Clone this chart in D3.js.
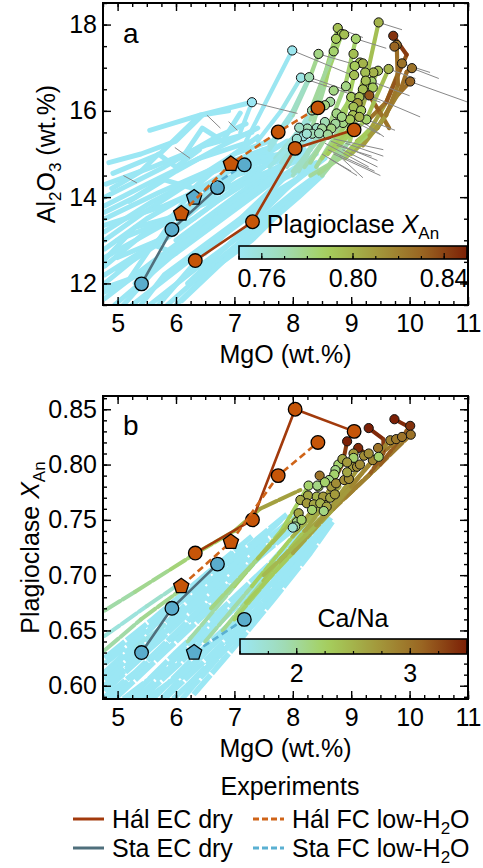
<!DOCTYPE html>
<html><head><meta charset="utf-8">
<script src="https://cdn.jsdelivr.net/npm/d3@7"></script>
<style>body{margin:0;background:#fff}svg text{font-family:"Liberation Sans",Arial,Helvetica,sans-serif;fill:#000}</style>
</head><body><svg id="c" width="483" height="868"></svg>
<script>
// ---------------- DATA ----------------
const xTicks = [5, 6, 7, 8, 9, 10, 11];
const yTicksA = [12, 14, 16, 18];
const yTicksB = [0.60, 0.65, 0.70, 0.75, 0.80, 0.85];
const cbTicksA = [0.76, 0.80, 0.84];
const cbTicksB = [2, 3];

// Experiments (MgO, Al2O3, XAn, marker)
const halEC_mgo = [6.33, 7.31, 8.04, 9.05];
const halEC_al  = [12.53, 13.43, 15.13, 15.56];
const halEC_xan = [0.72, 0.75, 0.85, 0.83];
const halEC_mk  = ["c", "c", "c", "c"];
const halFC_mgo = [6.09, 6.94, 7.75, 8.43];
const halFC_al  = [13.62, 14.77, 15.51, 16.07];
const halFC_xan = [0.69, 0.73, 0.79, 0.82];
const halFC_mk  = ["p", "p", "c", "c"];
const staEC_mgo = [5.41, 5.93, 6.71];
const staEC_al  = [11.99, 13.25, 14.22];
const staEC_xan = [0.63, 0.67, 0.71];
const staEC_mk  = ["c", "c", "c"];
const staFC_mgo = [6.31, 7.17];
const staFC_al  = [13.99, 14.75];
const staFC_xan = [0.63, 0.66];
const staFC_mk  = ["p", "c"];

// Panel a model paths: [MgO, Al2O3]
const bluePathsA = [
 [[4.78,11.65],[5.6,12.5],[6.5,13.4],[7.4,14.3],[8.2,15.1]],
 [[4.95,11.5],[5.9,12.6],[6.8,13.5],[7.6,14.3],[8.4,15.0]],
 [[5.25,11.5],[6.1,12.4],[7.0,13.3],[7.8,14.1],[8.55,14.9]],
 [[5.55,11.5],[6.3,12.3],[7.2,13.2],[8.0,14.1],[8.6,14.7]],
 [[5.85,11.5],[6.6,12.4],[7.4,13.3],[8.1,14.1],[8.5,14.5]],
 [[6.0,11.5],[6.6,12.3],[7.3,13.0],[7.9,13.8],[8.4,14.4]],
 [[4.78,12.0],[5.5,12.8],[6.3,13.5],[7.2,14.4],[8.0,15.2]],
 [[4.78,12.4],[5.4,13.1],[6.2,13.8],[7.1,14.6],[7.9,15.3]],
 [[4.78,12.8],[5.5,13.5],[6.4,14.2],[7.3,14.9],[8.1,15.4]],
 [[4.78,13.2],[5.6,13.9],[6.6,14.6],[7.5,15.1]],
 [[4.78,13.5],[5.7,14.1],[6.7,14.7],[7.7,15.2]],
 [[4.78,13.8],[5.5,14.3],[6.4,14.9],[7.3,15.3]],
 [[4.8,14.3],[5.6,14.7],[6.5,15.2],[7.3,15.5]],
 [[4.92,14.55],[5.72,15.0],[6.41,15.9],[6.9,16.0]],
 [[5.55,15.55],[6.41,15.9],[7.30,16.2]],
 [[4.9,14.2],[5.4,14.6],[5.7,15.0],[6.0,14.7],[6.4,15.1]],
 [[6.1,14.9],[6.45,15.6],[6.8,15.3],[7.1,15.95]],
 [[5.2,13.9],[5.8,14.4],[6.3,14.2],[6.9,14.9],[7.4,15.4]],
 [[4.78,11.9],[5.2,12.1],[5.6,12.9],[6.0,12.7]],
 [[5.0,12.6],[5.7,13.0],[6.0,13.6],[6.8,14.0],[7.6,14.8]],
 [[5.4,11.5],[5.8,12.2],[6.5,12.9],[7.3,13.7],[7.9,14.5]],
 [[4.78,12.55],[5.3,13.3],[6.1,13.6],[6.9,14.3]],
 [[6.1,11.6],[6.8,12.5],[7.5,13.3],[8.1,14.0],[8.5,14.5]],
 [[6.0,13.0],[6.8,13.8],[7.6,14.6],[8.3,15.1]],
 [[5.0,13.0],[5.9,13.5],[6.5,14.5],[7.0,14.8],[7.8,15.0]],
 [[4.78,11.8],[5.5,12.3],[6.2,13.1],[7.0,13.9],[7.8,14.7]],
 [[4.78,12.2],[5.6,12.9],[6.4,13.8],[7.2,14.7],[7.9,15.0]],
 [[4.78,12.6],[5.7,13.3],[6.6,14.0],[7.5,14.7],[8.3,15.3]],
 [[4.78,13.0],[5.4,13.6],[6.2,14.3],[7.0,15.0],[7.6,15.3]],
 [[4.78,13.35],[5.8,13.8],[6.8,14.4],[7.9,14.9]],
 [[4.78,13.65],[5.3,14.0],[6.0,14.6],[6.8,15.2],[7.4,15.6]],
 [[4.78,14.0],[5.8,14.7],[6.7,15.4],[7.2,15.7]],
 [[5.1,11.5],[5.7,12.4],[6.4,13.2],[7.1,14.0],[7.8,14.6]],
 [[5.7,11.5],[6.4,12.6],[7.1,13.5],[7.8,14.4],[8.4,14.8]],
 [[6.2,12.0],[6.9,12.9],[7.6,13.8],[8.2,14.6]],
 [[5.3,12.0],[6.0,12.8],[6.9,13.7],[7.7,14.5]],
 [[4.85,14.8],[5.4,15.0],[6.0,15.3],[6.45,15.9]],
 [[5.0,12.3],[5.9,13.1],[6.7,13.9],[7.4,14.5],[8.2,14.9]],
 [[6.5,12.7],[7.2,13.6],[7.8,14.2],[8.4,14.7]]
];
// Panel a coloured paths: [MgO, Al2O3, XAn]
const colPathsA = [
 [[7.7,14.9,0.75],[8.2,15.7,0.765],[8.5,16.6,0.775],[8.77,17.92,0.795]],
 [[7.8,14.8,0.75],[8.3,15.8,0.765],[8.6,16.9,0.78],[8.84,17.78,0.79]],
 [[7.9,14.7,0.752],[8.35,15.7,0.768],[8.55,16.6,0.78],[8.74,17.67,0.79]],
 [[7.6,15.1,0.75],[8.0,15.9,0.76],[8.3,16.8,0.775],[8.44,17.32,0.78]],
 [[7.9,15.0,0.752],[8.3,16.0,0.765],[8.70,17.38,0.785]],
 [[8.0,14.6,0.755],[8.6,15.6,0.775],[8.9,16.6,0.785],[9.08,17.67,0.785]],
 [[8.5,14.5,0.765],[8.98,15.31,0.78],[9.2,16.4,0.79],[9.47,18.05,0.80]],
 [[8.6,14.7,0.77],[9.0,15.6,0.785],[9.3,16.5,0.79],[9.46,16.93,0.795]],
 [[8.9,14.9,0.78],[9.3,15.5,0.80],[9.6,16.2,0.815],[9.87,17.10,0.825]],
 [[9.0,15.0,0.79],[9.45,15.6,0.81],[9.75,16.3,0.825],[10.01,16.68,0.83]],
 [[9.1,15.3,0.795],[9.5,15.7,0.815],[9.85,16.5,0.825],[9.95,16.9,0.83],[10.04,16.99,0.83]],
 [[9.3,15.8,0.82],[9.6,16.2,0.83],[9.95,17.3,0.84],[9.72,17.74,0.845]],
 [[9.31,16.36,0.835],[9.5,15.95,0.83],[9.65,15.6,0.82]],
 [[9.2,15.2,0.80],[9.6,15.9,0.82],[9.8,16.6,0.825],[9.78,17.53,0.83]],
 [[7.6,14.7,0.748],[8.07,15.35,0.76]],
 [[7.8,14.6,0.75],[8.25,15.59,0.77]],
 [[8.0,14.5,0.755],[8.5,15.59,0.775]],
 [[8.1,14.6,0.76],[8.55,15.74,0.77]],
 [[8.2,14.7,0.765],[8.73,15.70,0.775]],
 [[8.3,14.8,0.77],[8.66,15.59,0.78],[9.0,16.32,0.79]],
 [[8.4,14.7,0.77],[8.86,15.72,0.78],[9.05,16.83,0.795]],
 [[8.5,14.9,0.775],[9.03,15.90,0.795],[9.24,16.89,0.795]],
 [[8.6,15.0,0.78],[9.14,15.86,0.80],[9.38,16.89,0.80]],
 [[8.7,15.1,0.785],[9.26,15.80,0.79],[9.64,16.97,0.80]],
 [[8.3,14.5,0.77],[8.8,14.9,0.78],[9.25,15.4,0.79]],
 [[8.45,14.55,0.77],[8.9,15.0,0.785],[9.3,15.55,0.795]],
 [[7.2,15.3,0.745],[7.5,16.1,0.75],[7.99,17.40,0.752]],
 [[7.4,15.3,0.748],[7.8,16.0,0.752],[8.14,16.77,0.755]],
 [[7.6,15.2,0.75],[8.0,16.0,0.76],[8.28,16.78,0.77]],
 [[7.1,15.5,0.745],[7.30,16.2,0.75]]
];
// Panel a grey tails: [MgO, Al2O3]
const greyA = [
 [[7.30,16.20],[8.08,15.94]], [[7.99,17.40],[9.01,16.83]], [[8.14,16.77],[9.3,16.25]],
 [[8.28,16.78],[9.5,16.2]], [[8.44,17.32],[9.0,17.1]], [[8.77,17.92],[9.2,17.7]],
 [[9.08,17.67],[9.6,17.45]], [[9.47,18.05],[9.87,17.88]], [[9.87,17.10],[10.35,16.89]],
 [[10.04,16.99],[10.5,16.75]], [[10.01,16.68],[11.0,16.2]], [[9.64,16.97],[10.1,16.75]],
 [[9.35,16.68],[10.0,16.35]], [[9.31,16.36],[10.18,15.86]], [[9.03,15.90],[9.56,15.4]],
 [[9.26,15.80],[9.75,15.55]], [[8.98,15.80],[9.5,15.45]],
 [[8.55,15.25],[9.3,14.7]], [[8.6,15.1],[9.4,14.6]], [[8.65,15.3],[9.45,14.85]],
 [[8.7,15.0],[9.5,14.5]], [[8.75,15.2],[9.35,14.95]], [[8.8,14.95],[9.2,14.45]],
 [[8.62,14.9],[9.1,14.5]], [[8.9,15.25],[9.55,14.95]], [[8.5,15.0],[9.0,14.6]],
 [[8.85,15.1],[9.45,14.7]], [[8.7,15.35],[9.55,15.1]],
 [[5.1,14.5],[5.33,14.33]], [[5.98,15.15],[6.24,14.9]], [[6.53,15.9],[6.76,15.6]],
 [[6.9,15.75],[7.05,15.55]]
];
// Panel a end circles: MgO, Al2O3, XAn
const circA_mgo = [7.30,7.99,8.14,8.28,8.44,8.70,8.77,8.84,8.88,8.74,9.08,9.04,9.47,9.72,9.78,9.74,9.87,10.04,10.01,9.64,9.46,9.38,9.24,9.15,9.20,9.06,9.05,9.35,9.37,9.20,8.91,8.70,9.00,9.14,9.31,9.11,9.04,9.17,9.03,9.26,9.14,8.75,8.64,8.55,8.33,8.86,8.98,8.73,8.55,8.41,8.25,8.11,8.33,8.50,8.66,8.18,8.24,8.07,8.84,9.25,8.45,8.60];
const circA_al  = [16.20,17.40,16.77,16.78,17.32,17.38,17.92,17.78,17.77,17.67,17.67,17.32,18.05,17.74,17.53,17.49,17.10,16.99,16.68,16.97,16.93,16.89,16.89,17.12,17.10,17.04,16.83,16.68,16.54,16.50,16.57,16.47,16.32,16.32,16.36,16.18,16.09,16.01,15.90,15.80,15.86,15.94,16.21,16.13,16.01,15.72,15.80,15.70,15.74,15.60,15.59,15.61,15.47,15.59,15.59,15.41,15.47,15.35,15.86,16.70,15.48,15.45];
const circA_xan = [0.75,0.752,0.755,0.77,0.78,0.785,0.795,0.79,0.795,0.79,0.785,0.795,0.80,0.845,0.825,0.83,0.825,0.825,0.83,0.80,0.795,0.80,0.795,0.795,0.80,0.79,0.795,0.785,0.79,0.795,0.78,0.78,0.79,0.795,0.835,0.81,0.795,0.79,0.795,0.785,0.80,0.78,0.775,0.78,0.77,0.78,0.79,0.775,0.77,0.765,0.77,0.765,0.77,0.775,0.78,0.755,0.76,0.76,0.78,0.795,0.77,0.775];

// Panel b model paths: [MgO, XAn]
const bluePathsB = [
 [[4.85,0.588],[5.6,0.625],[6.4,0.665],[7.2,0.705],[8.0,0.745]],
 [[5.2,0.588],[6.0,0.63],[6.8,0.67],[7.6,0.71],[8.3,0.75]],
 [[5.6,0.588],[6.3,0.625],[7.0,0.66],[7.8,0.705],[8.5,0.752]],
 [[5.95,0.588],[6.7,0.625],[7.4,0.665],[8.1,0.71],[8.6,0.75]],
 [[4.78,0.595],[5.4,0.625],[6.2,0.67],[7.0,0.71],[7.8,0.75]],
 [[4.78,0.605],[5.5,0.64],[6.3,0.68],[7.1,0.72],[7.9,0.755]],
 [[4.78,0.62],[5.6,0.655],[6.4,0.69],[7.2,0.725]],
 [[4.78,0.59],[5.3,0.612],[6.0,0.648],[6.8,0.69],[7.6,0.73]],
 [[5.4,0.588],[6.1,0.622],[6.9,0.665],[7.7,0.71]],
 [[4.95,0.588],[5.8,0.63],[6.6,0.67],[7.4,0.715],[8.2,0.75]],
 [[5.75,0.588],[6.5,0.63],[7.3,0.672],[8.0,0.715],[8.45,0.74]],
 [[4.78,0.612],[5.5,0.648],[6.5,0.70],[7.0,0.72]],
 [[6.2,0.60],[7.0,0.645],[7.8,0.695],[8.4,0.735]],
 [[6.1,0.588],[6.8,0.63],[7.5,0.672],[8.2,0.718],[8.65,0.752]],
 [[6.3,0.592],[7.0,0.635],[7.7,0.68],[8.3,0.72],[8.7,0.75]],
 [[5.1,0.588],[5.9,0.62],[6.7,0.66],[7.5,0.70],[8.3,0.745]],
 [[5.5,0.588],[6.2,0.615],[7.0,0.655],[7.8,0.70],[8.55,0.745]],
 [[4.78,0.598],[5.7,0.64],[6.6,0.685],[7.5,0.73],[8.1,0.755]],
 [[4.78,0.625],[5.6,0.66],[6.5,0.70],[7.3,0.735]],
 [[5.8,0.588],[6.6,0.628],[7.3,0.665],[8.0,0.705],[8.5,0.738]],
 [[4.78,0.60],[5.9,0.655],[6.9,0.705],[7.6,0.74]],
 [[5.3,0.588],[6.4,0.64],[7.4,0.69],[8.2,0.735]]
];
// Panel b coloured paths: [MgO, XAn, Ca/Na]
const colPathsB = [
 [[7.8,0.715,2.3],[8.6,0.755,2.7],[9.4,0.795,2.9],[10.02,0.827,3.0]],
 [[7.9,0.72,2.4],[8.7,0.762,2.8],[9.5,0.80,3.0],[10.01,0.835,3.3]],
 [[8.0,0.725,2.5],[8.8,0.77,2.7],[9.4,0.805,2.9],[9.87,0.825,3.0]],
 [[9.30,0.833,3.5],[9.55,0.823,3.4],[9.55,0.81,3.3],[9.3,0.79,3.0],[8.9,0.77,2.8]],
 [[9.74,0.841,3.5],[9.95,0.835,3.4],[10.01,0.835,3.4]],
 [[8.93,0.821,3.5],[8.85,0.80,3.2],[8.6,0.775,2.8],[8.2,0.75,2.5]],
 [[9.12,0.815,3.45],[9.25,0.81,3.3]],
 [[6.5,0.64,1.8],[7.3,0.69,2.1],[8.0,0.735,2.4],[8.6,0.768,2.6]],
 [[6.8,0.65,1.9],[7.5,0.695,2.2],[8.2,0.74,2.5],[8.8,0.78,2.7]],
 [[7.0,0.66,2.0],[7.8,0.71,2.4],[8.5,0.75,2.6],[9.1,0.795,2.8]],
 [[7.2,0.675,2.1],[8.0,0.72,2.5],[8.7,0.76,2.7],[9.3,0.80,2.9]],
 [[6.2,0.64,1.8],[7.0,0.69,2.1],[7.8,0.74,2.3],[8.27,0.781,2.2]],
 [[6.6,0.67,1.9],[7.4,0.715,2.3],[8.1,0.755,2.5]],
 [[7.5,0.70,2.3],[8.4,0.745,2.6],[9.0,0.78,2.8],[9.66,0.822,2.9]],
 [[4.78,0.668,1.9],[5.3,0.685,2.0],[5.9,0.705,2.1],[6.35,0.72,2.2],[7.0,0.74,2.3],[7.44,0.76,2.6],[8.13,0.777,2.7]],
 [[4.78,0.632,1.9],[5.4,0.66,2.0],[6.12,0.688,2.1]],
 [[4.78,0.645,1.6],[5.5,0.672,1.7],[6.0,0.69,1.8]],
 [[4.78,0.61,1.4],[5.3,0.635,1.5],[5.8,0.655,1.6]]
];
// Panel b end circles: MgO, XAn, Ca/Na
const circB_mgo = [9.74,10.01,10.02,9.30,8.93,9.12,9.67,9.77,9.87,9.46,9.37,9.47,9.04,9.22,9.04,8.46,8.78,8.73,8.71,9.03,9.10,9.15,8.27,8.44,8.62,8.66,8.74,8.88,8.96,8.93,8.26,8.41,8.52,8.64,8.72,8.13,8.24,8.36,8.47,8.58,8.10,8.33,8.53,8.07,8.04,8.00,8.15,8.42,8.55,8.85,8.93,9.30];
const circB_xan = [0.841,0.835,0.827,0.833,0.821,0.815,0.822,0.823,0.825,0.815,0.804,0.807,0.810,0.808,0.806,0.790,0.800,0.795,0.791,0.798,0.798,0.800,0.781,0.780,0.786,0.780,0.783,0.786,0.787,0.793,0.772,0.771,0.771,0.770,0.773,0.768,0.765,0.764,0.765,0.762,0.756,0.759,0.758,0.748,0.744,0.743,0.750,0.781,0.784,0.805,0.802,0.810];
const circB_cana = [3.5,3.4,3.0,3.5,3.5,3.45,2.9,2.95,3.0,3.0,2.85,2.2,2.7,2.8,2.2,3.0,2.2,2.1,2.2,2.7,2.8,2.8,2.2,2.3,2.1,2.7,2.8,2.8,2.8,2.6,2.6,2.5,2.7,2.6,2.7,2.6,2.7,2.6,2.5,2.6,2.6,2.2,2.1,2.1,2.0,1.7,2.2,2.1,2.2,2.6,2.7,2.8];

// ---------------- STYLE / LAYOUT ----------------
const FS = 25;
const boxA = {l:103, r:468, t:3, b:305};
const boxB = {l:103, r:468, t:396, b:699};
const palette = d3.scaleLinear().domain([0,0.19,0.38,0.6,0.8,1])
  .range(["#9be7f4","#a0dcb8","#a5d05e","#a39a3c","#9a6622","#7c2006"]).clamp(true);
const tA = d3.scaleLinear().domain([0.75,0.85]).range([0,1]).clamp(true);
const tB = d3.scaleLinear().domain([1.5,3.5]).range([0,1]).clamp(true);
const colA = v => palette(tA(v));
const colB = v => palette(tB(v));
const HAL_LINE="#a23a0c", HAL_FC="#cf6418", HAL_FILL="#c65508";
const STA_LINE="#4f6f7c", STA_FC="#5ab0d2", STA_FILL="#5aaccc";

const svg = d3.select("#c");
const x = d3.scaleLinear().domain([4.75,11]).range([boxA.l, boxA.r]);
const yA = d3.scaleLinear().domain([11.5,18.5]).range([boxA.b, boxA.t]);
const yB = d3.scaleLinear().domain([0.588,0.862]).range([boxB.b, boxB.t]);

const defs = svg.append("defs");
function clip(id, box){
  defs.append("clipPath").attr("id",id).append("rect")
   .attr("x",box.l).attr("y",box.t).attr("width",box.r-box.l).attr("height",box.b-box.t);
}
clip("clipA",boxA); clip("clipB",boxB);

function pentagon(r){
  const p=[]; for(let k=0;k<5;k++){const a=-Math.PI/2+k*2*Math.PI/5; p.push([r*Math.cos(a), r*Math.sin(a)]);}
  return "M"+p.map(d=>d.join(",")).join("L")+"Z";
}

function axes(box, y, yTicks, yMinorStep, yFmt){
  const g = svg.append("g");
  const xMinor = d3.range(4.75, 11.001, 0.25);
  const yMinor = d3.range(y.domain()[0]-1e-9, y.domain()[1], yMinorStep).map(v=>Math.ceil(v/yMinorStep-1e-6)*yMinorStep).filter(v=>v>=y.domain()[0]&&v<=y.domain()[1]);
  const style = s => { s.select(".domain").remove(); s.selectAll("line").attr("stroke","#000").attr("stroke-width",1.4);
    s.attr("font-family",null).attr("font-size",FS); s.selectAll("text").attr("fill","#000"); };
  g.append("g").attr("transform",`translate(0,${box.b})`).call(d3.axisBottom(x).tickValues(xMinor).tickSize(-4).tickFormat("")).call(style);
  g.append("g").attr("transform",`translate(0,${box.b})`).call(d3.axisBottom(x).tickValues(xTicks).tickSize(-8).tickPadding(9).tickFormat(d3.format("d"))).call(style);
  g.append("g").attr("transform",`translate(0,${box.t})`).call(d3.axisTop(x).tickValues(xMinor).tickSize(-4).tickFormat("")).call(style);
  g.append("g").attr("transform",`translate(0,${box.t})`).call(d3.axisTop(x).tickValues(xTicks).tickSize(-8).tickFormat("")).call(style);
  g.append("g").attr("transform",`translate(${box.l},0)`).call(d3.axisLeft(y).tickValues(yMinor).tickSize(-4).tickFormat("")).call(style);
  g.append("g").attr("transform",`translate(${box.l},0)`).call(d3.axisLeft(y).tickValues(yTicks).tickSize(-8).tickPadding(6).tickFormat(yFmt)).call(style);
  g.append("g").attr("transform",`translate(${box.r},0)`).call(d3.axisRight(y).tickValues(yMinor).tickSize(-4).tickFormat("")).call(style);
  g.append("g").attr("transform",`translate(${box.r},0)`).call(d3.axisRight(y).tickValues(yTicks).tickSize(-8).tickFormat("")).call(style);
  g.append("rect").attr("x",box.l).attr("y",box.t).attr("width",box.r-box.l).attr("height",box.b-box.t)
   .attr("fill","none").attr("stroke","#000").attr("stroke-width",2);
}

function gradPath(g, pts, ys, colf, w, dash){
  for(let i=0;i<pts.length-1;i++){
    g.append("line").attr("x1",x(pts[i][0])).attr("y1",ys(pts[i][1]))
     .attr("x2",x(pts[i+1][0])).attr("y2",ys(pts[i+1][1]))
     .attr("stroke",colf((pts[i][2]+pts[i+1][2])/2)).attr("stroke-width",w)
     .attr("stroke-linecap","round").attr("stroke-dasharray",dash||null);
  }
}

function experiment(g, mg, yv, ys, mk, lineCol, dash, fill, big){
  const line = d3.line().x((d,i)=>x(mg[i])).y((d,i)=>ys(yv[i]));
  g.append("path").attr("d",line(mg)).attr("fill","none").attr("stroke",lineCol).attr("stroke-width",2.6)
   .attr("stroke-dasharray",dash||null);
  mg.forEach((m,i)=>{
    if(mk[i]==="p"){
      g.append("path").attr("d",pentagon(8)).attr("transform",`translate(${x(m)},${ys(yv[i])})`)
       .attr("fill",fill).attr("stroke","#000").attr("stroke-width",1.3);
    } else {
      g.append("circle").attr("cx",x(m)).attr("cy",ys(yv[i])).attr("r",big)
       .attr("fill",fill).attr("stroke","#000").attr("stroke-width",1.3);
    }
  });
}

function colorbar(id, x0, x1, yTop, h, dom, ticks, minor, fmt, colf){
  const grad = defs.append("linearGradient").attr("id",id);
  d3.range(0,1.0001,0.05).forEach(t=>grad.append("stop").attr("offset",t).attr("stop-color",colf(dom[0]+t*(dom[1]-dom[0]))));
  const cs = d3.scaleLinear().domain(dom).range([x0,x1]);
  svg.append("rect").attr("x",x0).attr("y",yTop).attr("width",x1-x0).attr("height",h).attr("fill",`url(#${id})`);
  const g = svg.append("g");
  minor.forEach(v=>g.append("line").attr("x1",cs(v)).attr("x2",cs(v)).attr("y1",yTop+h).attr("y2",yTop+h-3).attr("stroke","#000").attr("stroke-width",1.2));
  ticks.forEach(v=>{
    g.append("line").attr("x1",cs(v)).attr("x2",cs(v)).attr("y1",yTop+h).attr("y2",yTop+h-6).attr("stroke","#000").attr("stroke-width",1.2);
    g.append("text").attr("x",cs(v)).attr("y",yTop+h+28).attr("text-anchor","middle").attr("font-size",FS).text(fmt(v));
  });
  svg.append("rect").attr("x",x0).attr("y",yTop).attr("width",x1-x0).attr("height",h).attr("fill","none").attr("stroke","#000").attr("stroke-width",1.6);
}

// ---------------- PANEL A ----------------
const gA = svg.append("g").attr("clip-path","url(#clipA)");
const lineA = d3.line().x(d=>x(d[0])).y(d=>yA(d[1]));
bluePathsA.forEach(p=>gA.append("path").attr("d",lineA(p)).attr("fill","none").attr("stroke",colA(0.74))
  .attr("stroke-width",5).attr("stroke-linecap","round").attr("stroke-linejoin","round"));
colPathsA.forEach(p=>gradPath(gA,p,yA,colA,4.2));
greyA.forEach(p=>gA.append("path").attr("d",lineA(p)).attr("stroke","#888").attr("stroke-width",1).attr("fill","none"));
circA_mgo.forEach((m,i)=>gA.append("circle").attr("cx",x(m)).attr("cy",yA(circA_al[i])).attr("r",4.6)
  .attr("fill",colA(circA_xan[i])).attr("stroke","#111").attr("stroke-width",1));
experiment(gA, staEC_mgo, staEC_al, yA, staEC_mk, STA_LINE, null, STA_FILL, 6.8);
experiment(gA, staFC_mgo, staFC_al, yA, staFC_mk, STA_FC, "7,4", STA_FILL, 6.8);
experiment(gA, halEC_mgo, halEC_al, yA, halEC_mk, HAL_LINE, null, HAL_FILL, 6.8);
experiment(gA, halFC_mgo, halFC_al, yA, halFC_mk, HAL_FC, "7,4", HAL_FILL, 6.8);
axes(boxA, yA, yTicksA, 0.5, d3.format("d"));
colorbar("cbA", 239, 467, 246, 13, [0.75,0.85], cbTicksA, d3.range(0.75,0.8501,0.01), d3.format(".2f"), colA);
svg.append("text").attr("x",353).attr("y",233).attr("text-anchor","middle").attr("font-size",FS)
  .call(t=>{t.append("tspan").text("Plagioclase ");t.append("tspan").attr("font-style","italic").text("X");
    t.append("tspan").attr("font-size",17).attr("dy",6).text("An");});
svg.append("text").attr("x",123).attr("y",43).attr("font-size",28).text("a");
svg.append("text").attr("x",(boxA.l+boxA.r)/2).attr("y",363).attr("text-anchor","middle").attr("font-size",FS).text("MgO (wt.%)");
svg.append("text").attr("transform",`translate(55,${(boxA.t+boxA.b)/2}) rotate(-90)`).attr("text-anchor","middle").attr("font-size",FS)
  .call(t=>{t.append("tspan").text("Al");t.append("tspan").attr("font-size",17).attr("dy",6).text("2");
    t.append("tspan").attr("dy",-6).text("O");t.append("tspan").attr("font-size",17).attr("dy",6).text("3");
    t.append("tspan").attr("dy",-6).text(" (wt.%)");});

// ---------------- PANEL B ----------------
const gB = svg.append("g").attr("clip-path","url(#clipB)");
const lineB = d3.line().x(d=>x(d[0])).y(d=>yB(d[1]));
bluePathsB.forEach(p=>gB.append("path").attr("d",lineB(p)).attr("fill","none").attr("stroke",colB(1.4))
  .attr("stroke-width",5.5).attr("stroke-dasharray","26,2").attr("stroke-linejoin","round"));
colPathsB.forEach(p=>gradPath(gB,p,yB,colB,4,"18,3"));
circB_mgo.forEach((m,i)=>gB.append("circle").attr("cx",x(m)).attr("cy",yB(circB_xan[i])).attr("r",4.6)
  .attr("fill",colB(circB_cana[i])).attr("stroke","#111").attr("stroke-width",1));
experiment(gB, staEC_mgo, staEC_xan, yB, staEC_mk, STA_LINE, null, STA_FILL, 6.8);
experiment(gB, staFC_mgo, staFC_xan, yB, staFC_mk, STA_FC, "7,4", STA_FILL, 6.8);
experiment(gB, halEC_mgo, halEC_xan, yB, halEC_mk, HAL_LINE, null, HAL_FILL, 6.8);
experiment(gB, halFC_mgo, halFC_xan, yB, halFC_mk, HAL_FC, "7,4", HAL_FILL, 6.8);
axes(boxB, yB, yTicksB, 0.01, d3.format(".2f"));
colorbar("cbB", 240, 467, 639, 15, [1.5,3.5], cbTicksB, d3.range(1.5,3.501,0.25), d3.format("d"), colB);
svg.append("text").attr("x",353).attr("y",627).attr("text-anchor","middle").attr("font-size",FS).text("Ca/Na");
svg.append("text").attr("x",123).attr("y",435).attr("font-size",28).text("b");
svg.append("text").attr("x",(boxB.l+boxB.r)/2).attr("y",757).attr("text-anchor","middle").attr("font-size",FS).text("MgO (wt.%)");
svg.append("text").attr("transform",`translate(39,${(boxB.t+boxB.b)/2}) rotate(-90)`).attr("text-anchor","middle").attr("font-size",FS)
  .call(t=>{t.append("tspan").text("Plagioclase ");t.append("tspan").attr("font-style","italic").text("X");
    t.append("tspan").attr("font-size",17).attr("dy",6).text("An");});

// ---------------- LEGEND ----------------
const legend = [
 {label:"Hál EC dry", col:HAL_LINE, dash:null, lx:73, ty:828},
 {label:"Sta EC dry", col:STA_LINE, dash:null, lx:73, ty:857},
 {label:"Hál FC low-H", col:HAL_FC, dash:"6,3", lx:253, ty:828, sub:true},
 {label:"Sta FC low-H", col:STA_FC, dash:"6,3", lx:253, ty:857, sub:true}
];
svg.append("text").attr("x",290).attr("y",795).attr("text-anchor","middle").attr("font-size",FS).text("Experiments");
legend.forEach(d=>{
  svg.append("line").attr("x1",d.lx).attr("x2",d.lx+31).attr("y1",d.ty-9).attr("y2",d.ty-9)
   .attr("stroke",d.col).attr("stroke-width",3).attr("stroke-dasharray",d.dash);
  const t = svg.append("text").attr("x",d.lx+39).attr("y",d.ty).attr("font-size",FS);
  t.append("tspan").text(d.label);
  if(d.sub){ t.append("tspan").attr("font-size",17).attr("dy",6).text("2"); t.append("tspan").attr("dy",-6).text("O"); }
});
</script></body></html>
